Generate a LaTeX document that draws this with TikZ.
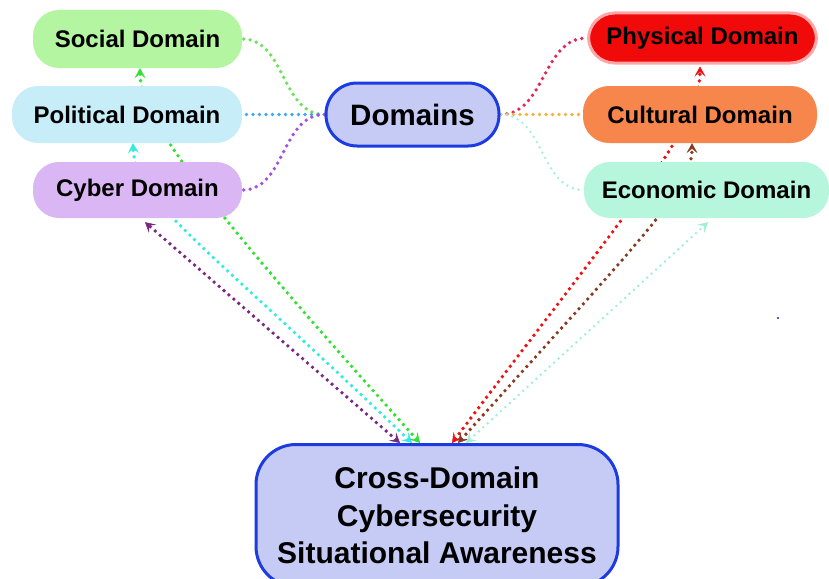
\documentclass[tikz,border=0pt]{standalone}
\usepackage{fontspec}
\setmainfont{Liberation Sans}
\usetikzlibrary{arrows.meta,backgrounds}

\definecolor{socialfill}{HTML}{B4F5A2}
\definecolor{politicalfill}{HTML}{C6EDF8}
\definecolor{cyberfill}{HTML}{DBB6F4}
\definecolor{physicalfill}{HTML}{F00A0A}
\definecolor{culturalfill}{HTML}{F7864C}
\definecolor{economicfill}{HTML}{B6F6DC}
\definecolor{hubfill}{HTML}{C6CBF6}
\definecolor{hubline}{HTML}{1C3BE0}

\tikzset{
    domainbox/.style={rounded corners=26pt, inner sep=0pt, align=center,
        font=\fontsize{24}{28}\selectfont\bfseries},
    hubbox/.style={draw=hubline, fill=hubfill, line width=3pt, inner sep=0pt,
        align=center},
    dotlink/.style={line width=3.8pt, line cap=round, dash pattern=on 0pt off 6.5pt},
    faintlink/.style={line width=2.8pt, line cap=round, dash pattern=on 0pt off 6pt},
    barbs/.style={>={Stealth[length=10pt,width=11pt,inset=4.5pt,line width=0.5pt]}}
}

\begin{document}
\begin{tikzpicture}[x=1pt, y=-1pt]

    % Canvas
    \useasboundingbox (0,0) rectangle (829,578);

    % Domain nodes, left
    \node[domainbox, fill=socialfill, minimum width=209pt, minimum height=58pt] (social) at (137.5,39) {Social Domain};
    \node[domainbox, fill=politicalfill, minimum width=230pt, minimum height=57pt] (political) at (127,114.5) {Political Domain};
    \node[domainbox, fill=cyberfill, minimum width=209pt, minimum height=56pt] (cyber) at (137.5,190) {Cyber Domain};

    % Domain nodes, right
    \node[domainbox, fill=physicalfill, draw=red!35, line width=3pt, minimum width=228pt, minimum height=50pt] (physical) at (702.5,38) {Physical Domain};
    \node[domainbox, fill=culturalfill, minimum width=234pt, minimum height=57pt] (cultural) at (700,114.5) {Cultural Domain};
    \node[domainbox, fill=economicfill, minimum width=245pt, minimum height=56pt] (economic) at (706.5,190) {Economic Domain};

    % Hubs
    \node[hubbox, rounded corners=31pt, minimum width=173pt, minimum height=63pt,
        font=\fontsize{29.5}{34}\selectfont\bfseries] (domains) at (412.5,114.5) {Domains};
    \node[hubbox, rounded corners=40pt, minimum width=362pt, minimum height=142pt,
        font=\fontsize{30}{37.5}\selectfont\bfseries] (cross) at (437,515.5)
        {Cross-Domain\\Cybersecurity\\Situational Awareness};

    \begin{scope}[on background layer]
        % Branches of the hub
        \draw[dotlink, color={rgb,255:red,110;green,226;blue,90}] (domains.west) to[out=180, in=0] (social.east);
        \draw[dotlink, color={rgb,255:red,64;green,168;blue,240}] (domains.west) -- (political.east);
        \draw[dotlink, color={rgb,255:red,166;green,80;blue,226}] (domains.west) to[out=180, in=0] (cyber.east);
        \draw[dotlink, color={rgb,255:red,224;green,40;blue,90}] (domains.east) to[out=0, in=180] (physical.west);
        \draw[dotlink, color={rgb,255:red,245;green,178;blue,64}] (domains.east) -- (cultural.west);
        \draw[faintlink, color={rgb,255:red,168;green,240;blue,214}] (domains.east) to[out=0, in=180] (economic.west);

        % Relations to the awareness box
        \draw[dotlink, barbs, <->, color={rgb,255:red,120;green,40;blue,128}]
            ([xshift=-37pt]cross.north) -- ([xshift=7.5pt,yshift=-4pt]cyber.south);
        \draw[dotlink, barbs, <->, color={rgb,255:red,48;green,236;blue,224}]
            ([xshift=-25pt]cross.north) .. controls (200,240) and (135,200) .. ([xshift=6pt]political.south);
        \draw[dotlink, barbs, <->, color={rgb,255:red,48;green,226;blue,48}]
            ([xshift=-17pt]cross.north) .. controls (215,215) and (140,120) .. ([xshift=2.5pt]social.south);
        \draw[dotlink, barbs, <->, color={rgb,255:red,240;green,16;blue,16}]
            ([xshift=15pt]cross.north) .. controls (620,220) and (700,130) .. ([xshift=-2.5pt,yshift=-2pt]physical.south);
        \draw[dotlink, barbs, <->, color={rgb,255:red,138;green,58;blue,32}]
            ([xshift=21pt]cross.north) .. controls (640,240) and (692,190) .. ([xshift=-8pt]cultural.south);
        \draw[faintlink, barbs, <->, color={rgb,255:red,160;green,240;blue,208}]
            ([xshift=29pt]cross.north) -- ([xshift=1.5pt,yshift=-4pt]economic.south);
    \end{scope}

    \fill[hubline!70!black] (778,318) circle (1.2pt);

\end{tikzpicture}
\end{document}
